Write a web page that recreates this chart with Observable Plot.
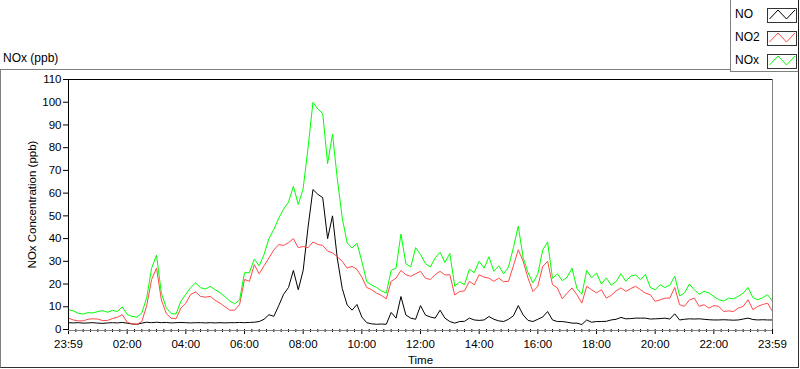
<!DOCTYPE html>
<html><head><meta charset="utf-8">
<script src="https://cdn.jsdelivr.net/npm/d3@7"></script>
<script src="https://cdn.jsdelivr.net/npm/@observablehq/plot@0.6"></script>
<style>
html,body{margin:0;padding:0;background:#fff;}
#wrap{position:relative;width:800px;height:369px;overflow:hidden;font-family:"Liberation Sans",Arial,sans-serif;color:#000;}
#border{position:absolute;left:0;top:69px;width:797px;height:297px;border-left:1px solid #808080;border-top:1px solid #808080;border-right:1px solid #303030;border-bottom:1px solid #303030;}
#title{position:absolute;left:3px;top:51px;font-size:12px;}
#chart{position:absolute;left:0;top:0;}
#legend{position:absolute;left:730px;top:0;width:69px;height:72px;background:#fff;border-left:1px solid #808080;border-bottom:1px solid #808080;border-right:1px solid #202020;box-sizing:border-box;}
</style></head>
<body><div id="wrap"><div id="border"></div><div id="title">NOx (ppb)</div><div id="chart"></div><div id="legend"></div></div>
<script>
// time in minutes after 23:59 (start of day), every 10 minutes
const minutes = [0,10,20,30,40,50,60,70,80,90,100,110,120,130,140,150,160,170,180,190,200,210,220,230,240,250,260,270,280,290,300,310,320,330,340,350,360,370,380,390,400,410,420,430,440,450,460,470,480,490,500,510,520,530,540,550,560,570,580,590,600,610,620,630,640,650,660,670,680,690,700,710,720,730,740,750,760,770,780,790,800,810,820,830,840,850,860,870,880,890,900,910,920,930,940,950,960,970,980,990,1000,1010,1020,1030,1040,1050,1060,1070,1080,1090,1100,1110,1120,1130,1140,1150,1160,1170,1180,1190,1200,1210,1220,1230,1240,1250,1260,1270,1280,1290,1300,1310,1320,1330,1340,1350,1360,1370,1380,1390,1400,1410,1420,1430,1440];
const NO = [3.0,2.9,3.0,2.8,2.9,3.0,2.8,2.7,2.9,3.0,2.9,3.1,2.8,2.4,2.3,2.8,3.2,3.0,3.2,3.0,3.1,2.9,3.0,3.1,3.0,2.9,3.0,3.0,2.9,3.0,2.9,3.0,2.9,3.0,3.0,3.1,
3.0,3.1,3.2,3.5,4.5,6.5,5.8,10.5,15.5,18.5,26.0,17.5,26.0,45.0,61.6,59.5,58.0,40.0,50.0,31.0,18.0,10.8,8.5,11.0,
5.5,3.0,2.5,2.3,2.4,2.3,7.5,5.0,14.5,6.4,5.0,4.5,10.5,6.4,5.5,5.0,8.5,5.0,3.5,2.8,3.5,3.6,5.0,4.2,
4.0,4.2,5.7,4.5,3.8,3.5,4.5,6.0,10.5,6.4,4.0,3.5,4.5,5.5,7.9,4.2,3.5,3.5,3.2,2.8,2.8,2.2,4.2,3.2,
3.5,3.5,3.6,4.2,4.5,5.3,4.7,4.8,5.0,5.0,5.0,4.6,4.7,4.8,5.0,4.6,6.9,4.2,4.5,4.7,4.6,4.7,4.5,4.3,
4.2,4.2,4.3,4.2,4.1,4.2,4.6,5.0,4.4,4.2,4.3,4.2,4.2];
const NO2 = [5.0,4.2,3.8,3.8,4.5,4.7,4.6,3.9,4.0,4.8,5.4,6.5,3.2,2.5,2.3,3.5,10.5,22.0,27.0,13.0,7.0,5.0,4.7,9.5,
11.6,15.5,16.5,14.6,14.2,14.6,12.8,11.6,10.0,8.5,8.5,11.0,22.0,21.2,28.5,24.5,28.0,31.5,35.0,37.4,37.0,38.2,40.0,36.0,
36.5,36.0,38.5,37.4,37.0,34.5,33.7,32.0,30.0,27.0,27.8,26.5,23.0,18.5,17.5,16.0,15.0,13.5,21.2,22.6,26.0,24.1,23.4,24.5,
25.6,22.6,22.0,24.1,25.6,24.0,24.1,15.2,16.7,17.0,21.2,19.7,24.1,23.0,22.6,21.2,22.6,21.0,21.2,28.0,35.1,30.0,22.6,16.7,
19.0,27.8,30.0,19.7,18.3,13.5,16.0,18.3,15.3,11.6,19.0,17.5,16.1,17.5,13.8,15.0,17.0,18.3,16.8,18.0,19.0,17.5,16.0,15.3,
12.4,13.0,13.8,13.8,18.5,10.9,10.2,13.0,13.8,10.2,10.9,9.4,10.5,10.2,7.9,8.2,7.9,9.4,10.2,13.1,8.7,10.2,11.0,11.6,7.9];
const NOx = [8.7,8.2,7.1,6.8,7.4,7.3,7.9,8.3,7.6,8.4,7.9,10.0,6.6,5.8,5.4,7.3,14.0,27.0,32.7,16.0,9.5,7.0,6.8,12.5,
15.5,18.5,20.5,18.4,17.8,19.0,17.5,16.2,14.5,12.5,11.3,13.0,25.0,25.0,31.0,28.0,33.0,40.0,44.0,49.0,53.0,56.0,63.0,55.0,
62.0,80.0,100.0,97.0,95.0,73.0,86.0,66.0,49.0,38.1,35.9,38.0,30.0,21.0,19.6,18.5,17.0,16.0,26.0,27.0,42.0,29.0,27.5,36.0,
33.0,29.0,27.5,31.5,34.0,29.5,33.5,19.0,21.0,19.7,26.5,25.0,30.0,27.0,32.0,25.6,28.0,24.5,27.5,36.0,45.5,31.5,25.0,20.5,
24.5,35.0,38.5,22.5,24.5,21.5,23.0,27.0,18.0,15.5,26.0,22.7,24.9,20.0,22.7,19.5,21.0,24.5,21.2,23.5,24.0,21.9,24.2,18.5,
17.5,19.7,18.5,19.5,23.5,14.8,16.1,20.0,17.5,15.5,16.8,16.1,14.5,13.2,12.5,13.8,13.5,14.6,16.0,18.5,14.0,13.1,14.0,15.3,12.4];
const seriesNames = ["NO","NO2","NOx"];
const seriesColors = ["#000000","#ff4848","#00ff00"];
const yTicks = [0,10,20,30,40,50,60,70,80,90,100,110];
const xTickMinutes = [0,120,240,360,480,600,720,840,960,1080,1200,1320,1440];
const xTickLabels = ["23:59","02:00","04:00","06:00","08:00","10:00","12:00","14:00","16:00","18:00","20:00","22:00","23:59"];
const xMinorStep = 15;

const rows = [];
[NO, NO2, NOx].forEach((vals, s) => vals.forEach((v, i) => rows.push({t: minutes[i], v, s: seriesNames[s]})));
const minorTicks = d3.range(0, 1441, xMinorStep).filter(m => m % 120 !== 0);
const FONT = '"Liberation Sans", Arial, sans-serif';

const chart = Plot.plot({
  width: 800, height: 369,
  marginLeft: 68, marginRight: 28, marginTop: 79, marginBottom: 40,
  style: {fontFamily: FONT, fontSize: "11.5px", color: "#000", background: "transparent", overflow: "visible"},
  x: {domain: [0, 1440]},
  y: {domain: [0, 110]},
  color: {domain: seriesNames, range: seriesColors},
  marks: [
    Plot.axisY({ticks: yTicks, tickSize: 5, tickPadding: 2, label: "NOx Concentration (ppb)", labelAnchor: "center", labelArrow: "none", labelOffset: 41}),
    Plot.axisX({ticks: minorTicks, tickSize: 3, text: null, label: null}),
    Plot.axisX({ticks: xTickMinutes, tickSize: 5, tickPadding: 5, tickFormat: (d, i) => xTickLabels[xTickMinutes.indexOf(d)], label: "Time", labelAnchor: "center", labelArrow: "none", labelOffset: 34}),
    Plot.lineY(rows, {x: "t", y: "v", z: "s", stroke: "s", strokeWidth: 1}),
    Plot.ruleX([0], {stroke: "#000"}),
    Plot.ruleY([110], {stroke: "#000"}),
    Plot.ruleX([1440], {stroke: "#808080"}),
    Plot.ruleY([0], {stroke: "#808080", dy: 1})
  ]
});
document.getElementById("chart").appendChild(chart);

// legend
const lg = d3.select("#legend").append("svg").attr("width", 69).attr("height", 72).style("position","absolute").style("left","-1px").style("top","0");
seriesNames.forEach((name, i) => {
  const y0 = 8 + i * 23;
  lg.append("text").attr("x", 5).attr("y", y0 + 10).attr("font-family", FONT).attr("font-size", 12).attr("fill", "#000").text(name);
  lg.append("rect").attr("x", 37.5).attr("y", y0 + 0.5).attr("width", 29).attr("height", 14).attr("fill", "#fff").attr("stroke", "#333");
  lg.append("polyline").attr("points", `${39.5},${y0+11} ${48},${y0+2} ${56.5},${y0+11} ${65},${y0+2}`).attr("fill", "none").attr("stroke", seriesColors[i]).attr("stroke-width", 1);
});
</script></body></html>
